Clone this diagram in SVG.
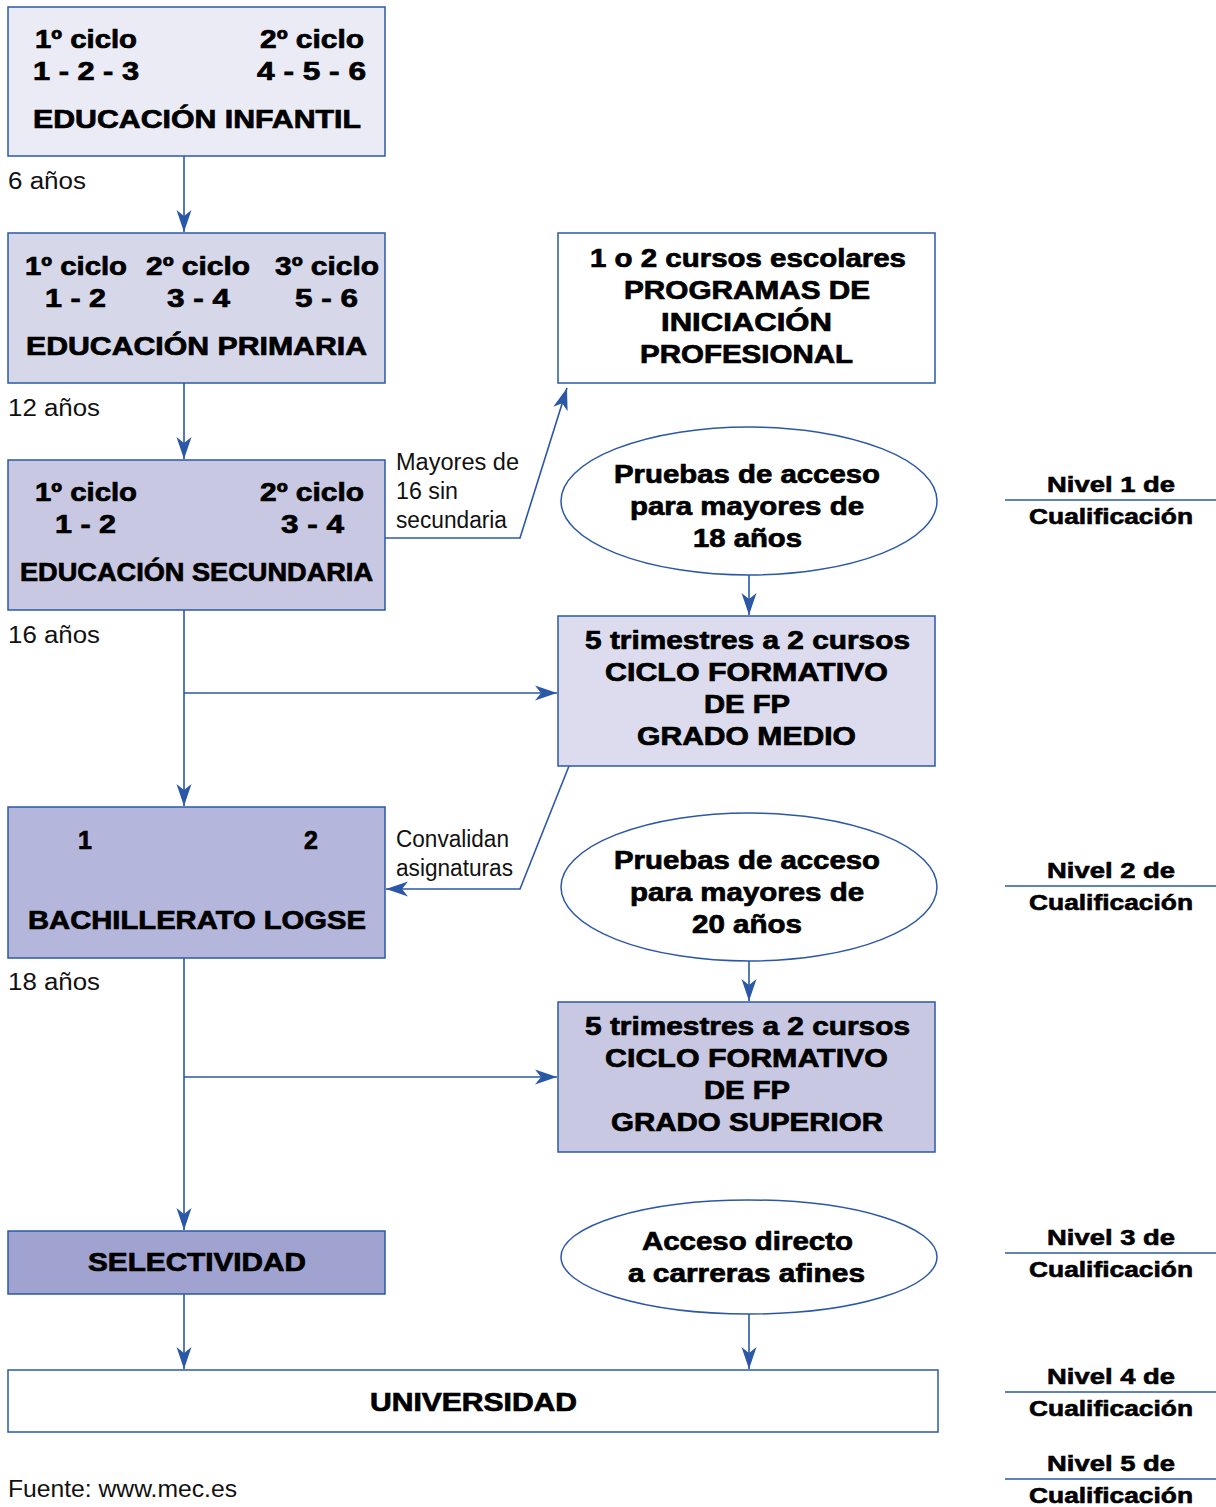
<svg xmlns="http://www.w3.org/2000/svg" width="1216" height="1507" viewBox="0 0 1216 1507">
  <style>
    .box { stroke: #2b58a6; stroke-width: 1.5; }
    .b { font-family: "Liberation Sans", Arial, sans-serif; font-weight: bold; font-size: 25px; fill: #000; stroke: #000; stroke-width: 0.7; }
    .n { font-family: "Liberation Sans", Arial, sans-serif; font-weight: bold; font-size: 22px; fill: #000; stroke: #000; stroke-width: 0.6; }
    .r { font-family: "Liberation Sans", Arial, sans-serif; font-size: 23px; fill: #111; }
    .link { fill: none; stroke: #2b58a6; stroke-width: 1.6; }
    .rule { stroke: #2b58a6; stroke-width: 1.5; }
  </style>
  <defs>
    <!-- barbed arrowhead shared by every connector -->
    <marker id="arrow" markerUnits="userSpaceOnUse" markerWidth="24" markerHeight="16" refX="22" refY="8" orient="auto" viewBox="0 0 24 16">
      <path d="M22,8 L0,0.5 L6,8 L0,15.5 Z" fill="#2b58a6"/>
    </marker>
  </defs>

  <rect width="1216" height="1507" fill="#ffffff"/>

  <!-- Connectors -->
  <g id="connectors">
    <line class="link" x1="184" y1="156" x2="184" y2="232" marker-end="url(#arrow)"/>
    <line class="link" x1="184" y1="383" x2="184" y2="459" marker-end="url(#arrow)"/>
    <line class="link" x1="184" y1="610" x2="184" y2="806" marker-end="url(#arrow)"/>
    <line class="link" x1="184" y1="693" x2="557" y2="693" marker-end="url(#arrow)"/>
    <line class="link" x1="184" y1="958" x2="184" y2="1230" marker-end="url(#arrow)"/>
    <line class="link" x1="184" y1="1077" x2="557" y2="1077" marker-end="url(#arrow)"/>
    <line class="link" x1="184" y1="1294" x2="184" y2="1369" marker-end="url(#arrow)"/>
    <polyline class="link" points="385,538 520,538 567,388" marker-end="url(#arrow)"/>
    <polyline class="link" points="569,766 520,889 386,889" marker-end="url(#arrow)"/>
    <line class="link" x1="749" y1="575" x2="749" y2="615" marker-end="url(#arrow)"/>
    <line class="link" x1="749" y1="961" x2="749" y2="1001" marker-end="url(#arrow)"/>
    <line class="link" x1="749" y1="1314" x2="749" y2="1369" marker-end="url(#arrow)"/>
  </g>

  <!-- Educación Infantil -->
  <g id="infantil">
    <rect class="box" x="8" y="7" width="377" height="149" fill="#ebebf5"/>
    <text class="b" x="35" y="48" textLength="102" lengthAdjust="spacingAndGlyphs">1º ciclo</text>
    <text class="b" x="260" y="48" textLength="104" lengthAdjust="spacingAndGlyphs">2º ciclo</text>
    <text class="b" x="33" y="80" textLength="106" lengthAdjust="spacingAndGlyphs">1 - 2 - 3</text>
    <text class="b" x="257" y="80" textLength="109" lengthAdjust="spacingAndGlyphs">4 - 5 - 6</text>
    <text class="b" x="33" y="128" textLength="328" lengthAdjust="spacingAndGlyphs">EDUCACIÓN INFANTIL</text>
  </g>

  <!-- Educación Primaria -->
  <g id="primaria">
    <rect class="box" x="8" y="233" width="377" height="150" fill="#d7d7ea"/>
    <text class="b" x="25" y="275" textLength="102" lengthAdjust="spacingAndGlyphs">1º ciclo</text>
    <text class="b" x="146" y="275" textLength="104" lengthAdjust="spacingAndGlyphs">2º ciclo</text>
    <text class="b" x="275" y="275" textLength="104" lengthAdjust="spacingAndGlyphs">3º ciclo</text>
    <text class="b" x="45" y="307" textLength="61" lengthAdjust="spacingAndGlyphs">1 - 2</text>
    <text class="b" x="167" y="307" textLength="63" lengthAdjust="spacingAndGlyphs">3 - 4</text>
    <text class="b" x="295" y="307" textLength="63" lengthAdjust="spacingAndGlyphs">5 - 6</text>
    <text class="b" x="26" y="355" textLength="341" lengthAdjust="spacingAndGlyphs">EDUCACIÓN PRIMARIA</text>
  </g>

  <!-- Educación Secundaria -->
  <g id="secundaria">
    <rect class="box" x="8" y="460" width="377" height="150" fill="#c8c8e3"/>
    <text class="b" x="35" y="501" textLength="102" lengthAdjust="spacingAndGlyphs">1º ciclo</text>
    <text class="b" x="260" y="501" textLength="104" lengthAdjust="spacingAndGlyphs">2º ciclo</text>
    <text class="b" x="55" y="533" textLength="61" lengthAdjust="spacingAndGlyphs">1 - 2</text>
    <text class="b" x="281" y="533" textLength="63" lengthAdjust="spacingAndGlyphs">3 - 4</text>
    <text class="b" x="20" y="581" textLength="353" lengthAdjust="spacingAndGlyphs">EDUCACIÓN SECUNDARIA</text>
  </g>

  <!-- Bachillerato -->
  <g id="bachillerato">
    <rect class="box" x="8" y="807" width="377" height="151" fill="#b4b6dc"/>
    <text class="b" x="85" y="849" text-anchor="middle">1</text>
    <text class="b" x="311" y="849" text-anchor="middle">2</text>
    <text class="b" x="28" y="929" textLength="338" lengthAdjust="spacingAndGlyphs">BACHILLERATO LOGSE</text>
  </g>

  <!-- Selectividad -->
  <g id="selectividad">
    <rect class="box" x="8" y="1231" width="377" height="63" fill="#a0a3cf"/>
    <text class="b" x="88" y="1271" textLength="218" lengthAdjust="spacingAndGlyphs">SELECTIVIDAD</text>
  </g>

  <!-- Universidad -->
  <g id="universidad">
    <rect class="box" x="8" y="1370" width="930" height="62" fill="#ffffff"/>
    <text class="b" x="370" y="1411" textLength="207" lengthAdjust="spacingAndGlyphs">UNIVERSIDAD</text>
  </g>

  <!-- Programas de Iniciación Profesional -->
  <g id="pip">
    <rect class="box" x="558" y="233" width="377" height="150" fill="#ffffff"/>
    <text class="b" x="590" y="267" textLength="316" lengthAdjust="spacingAndGlyphs">1 o 2 cursos escolares</text>
    <text class="b" x="624" y="299" textLength="246" lengthAdjust="spacingAndGlyphs">PROGRAMAS DE</text>
    <text class="b" x="661" y="331" textLength="171" lengthAdjust="spacingAndGlyphs">INICIACIÓN</text>
    <text class="b" x="640" y="363" textLength="213" lengthAdjust="spacingAndGlyphs">PROFESIONAL</text>
  </g>

  <!-- Pruebas de acceso (18 años) -->
  <g id="pruebas18">
    <ellipse class="box" cx="749" cy="501" rx="188" ry="74" fill="#ffffff"/>
    <text class="b" x="614" y="483" textLength="266" lengthAdjust="spacingAndGlyphs">Pruebas de acceso</text>
    <text class="b" x="630" y="515" textLength="234" lengthAdjust="spacingAndGlyphs">para mayores de</text>
    <text class="b" x="693" y="547" textLength="109" lengthAdjust="spacingAndGlyphs">18 años</text>
  </g>

  <!-- Grado Medio -->
  <g id="grado-medio">
    <rect class="box" x="558" y="616" width="377" height="150" fill="#dcdcee"/>
    <text class="b" x="585" y="649" textLength="325" lengthAdjust="spacingAndGlyphs">5 trimestres a 2 cursos</text>
    <text class="b" x="605" y="681" textLength="283" lengthAdjust="spacingAndGlyphs">CICLO FORMATIVO</text>
    <text class="b" x="704" y="713" textLength="86" lengthAdjust="spacingAndGlyphs">DE FP</text>
    <text class="b" x="637" y="745" textLength="219" lengthAdjust="spacingAndGlyphs">GRADO MEDIO</text>
  </g>

  <!-- Pruebas de acceso (20 años) -->
  <g id="pruebas20">
    <ellipse class="box" cx="749" cy="887" rx="188" ry="74" fill="#ffffff"/>
    <text class="b" x="614" y="869" textLength="266" lengthAdjust="spacingAndGlyphs">Pruebas de acceso</text>
    <text class="b" x="630" y="901" textLength="234" lengthAdjust="spacingAndGlyphs">para mayores de</text>
    <text class="b" x="692" y="933" textLength="110" lengthAdjust="spacingAndGlyphs">20 años</text>
  </g>

  <!-- Grado Superior -->
  <g id="grado-superior">
    <rect class="box" x="558" y="1002" width="377" height="150" fill="#c8c8e3"/>
    <text class="b" x="585" y="1035" textLength="325" lengthAdjust="spacingAndGlyphs">5 trimestres a 2 cursos</text>
    <text class="b" x="605" y="1067" textLength="283" lengthAdjust="spacingAndGlyphs">CICLO FORMATIVO</text>
    <text class="b" x="704" y="1099" textLength="86" lengthAdjust="spacingAndGlyphs">DE FP</text>
    <text class="b" x="611" y="1131" textLength="272" lengthAdjust="spacingAndGlyphs">GRADO SUPERIOR</text>
  </g>

  <!-- Acceso directo -->
  <g id="acceso-directo">
    <ellipse class="box" cx="749" cy="1257" rx="188" ry="57" fill="#ffffff"/>
    <text class="b" x="642" y="1250" textLength="211" lengthAdjust="spacingAndGlyphs">Acceso directo</text>
    <text class="b" x="628" y="1282" textLength="237" lengthAdjust="spacingAndGlyphs">a carreras afines</text>
  </g>

  <!-- Age and side labels -->
  <g id="labels">
    <text class="r" x="8" y="189" textLength="78" lengthAdjust="spacingAndGlyphs">6 años</text>
    <text class="r" x="8" y="416" textLength="92" lengthAdjust="spacingAndGlyphs">12 años</text>
    <text class="r" x="8" y="643" textLength="92" lengthAdjust="spacingAndGlyphs">16 años</text>
    <text class="r" x="8" y="990" textLength="92" lengthAdjust="spacingAndGlyphs">18 años</text>
    <text class="r" x="396" y="470" textLength="123" lengthAdjust="spacingAndGlyphs">Mayores de</text>
    <text class="r" x="396" y="499" textLength="62" lengthAdjust="spacingAndGlyphs">16 sin</text>
    <text class="r" x="396" y="528" textLength="111" lengthAdjust="spacingAndGlyphs">secundaria</text>
    <text class="r" x="396" y="847" textLength="113" lengthAdjust="spacingAndGlyphs">Convalidan</text>
    <text class="r" x="396" y="876" textLength="117" lengthAdjust="spacingAndGlyphs">asignaturas</text>
    <text class="r" x="8" y="1497" textLength="229" lengthAdjust="spacingAndGlyphs">Fuente: www.mec.es</text>
  </g>

  <!-- Qualification levels -->
  <g id="nivel-1">
    <text class="n" x="1047" y="492" textLength="128" lengthAdjust="spacingAndGlyphs">Nivel 1 de</text>
    <line class="rule" x1="1005" y1="500" x2="1216" y2="500"/>
    <text class="n" x="1029" y="524" textLength="164" lengthAdjust="spacingAndGlyphs">Cualificación</text>
  </g>
  <g id="nivel-2">
    <text class="n" x="1047" y="878" textLength="128" lengthAdjust="spacingAndGlyphs">Nivel 2 de</text>
    <line class="rule" x1="1005" y1="886" x2="1216" y2="886"/>
    <text class="n" x="1029" y="910" textLength="164" lengthAdjust="spacingAndGlyphs">Cualificación</text>
  </g>
  <g id="nivel-3">
    <text class="n" x="1047" y="1245" textLength="128" lengthAdjust="spacingAndGlyphs">Nivel 3 de</text>
    <line class="rule" x1="1005" y1="1253" x2="1216" y2="1253"/>
    <text class="n" x="1029" y="1277" textLength="164" lengthAdjust="spacingAndGlyphs">Cualificación</text>
  </g>
  <g id="nivel-4">
    <text class="n" x="1047" y="1384" textLength="128" lengthAdjust="spacingAndGlyphs">Nivel 4 de</text>
    <line class="rule" x1="1005" y1="1392" x2="1216" y2="1392"/>
    <text class="n" x="1029" y="1416" textLength="164" lengthAdjust="spacingAndGlyphs">Cualificación</text>
  </g>
  <g id="nivel-5">
    <text class="n" x="1047" y="1471" textLength="128" lengthAdjust="spacingAndGlyphs">Nivel 5 de</text>
    <line class="rule" x1="1005" y1="1479" x2="1216" y2="1479"/>
    <text class="n" x="1029" y="1503" textLength="164" lengthAdjust="spacingAndGlyphs">Cualificación</text>
  </g>
</svg>
